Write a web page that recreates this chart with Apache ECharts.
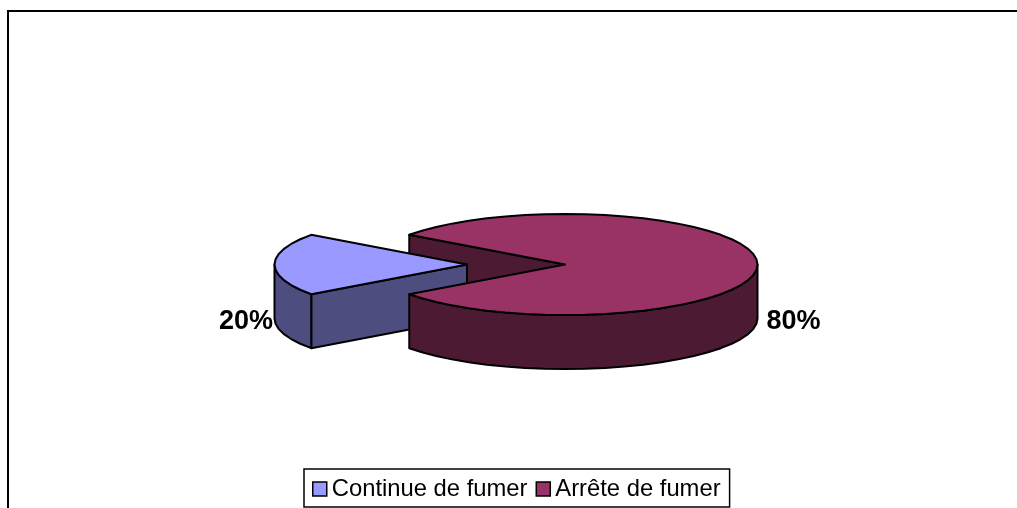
<!DOCTYPE html>
<html>
<head>
<meta charset="utf-8">
<style>html,body{margin:0;padding:0;background:#fff}#c{width:1017px;height:508px}</style>
<script src="https://cdn.jsdelivr.net/npm/echarts@6/dist/echarts.min.js"></script>
</head>
<body>
<div id="c"></div>
<script>
const categories = ['Continue de fumer', 'Arrête de fumer'];
const values = [20, 80];
const topColors = ['#9999FF', '#993366'];
const sideColors = ['#4D4D80', '#4D1A33'];

const cx = 565, cy = 264.5, rx = 192.5, ry = 50.5, depth = 54;
const explodeX = 98;
const firstSliceMid = 180;
const step = 6;
const total = values.reduce((a, b) => a + b, 0);
const rad = d => d * Math.PI / 180;

const firstSpan = values[0] / total * 360;
const spans = [
  [firstSliceMid - firstSpan / 2, firstSliceMid + firstSpan / 2],
  [firstSliceMid + firstSpan / 2, firstSliceMid - firstSpan / 2 + 360]
];
const centers = [[cx - explodeX, cy], [cx, cy]];

function pt(c, a) { return [c[0] + rx * Math.cos(rad(a)), c[1] + ry * Math.sin(rad(a))]; }
function arc(c, a0, a1) {
  const pts = [];
  const n = Math.max(1, Math.round(Math.abs(a1 - a0) / step));
  for (let k = 0; k <= n; k++) pts.push(pt(c, a0 + (a1 - a0) * k / n));
  return pts;
}
function down(p) { return [p[0], p[1] + depth]; }
function poly(points, fill) {
  return { type: 'polygon', shape: { points }, style: { fill, stroke: '#000', lineWidth: 2, lineJoin: 'round' } };
}
function wall(top, fill) { return poly(top.concat(top.slice().reverse().map(down)), fill); }
function topFace(i) {
  const c = centers[i];
  return poly([c].concat(arc(c, spans[i][0], spans[i][1])), topColors[i]);
}
function pctLabel(i, x, y, align) {
  return { type: 'text', x, y, style: {
    text: values[i] + '%', fill: '#000', align, verticalAlign: 'middle',
    font: 'bold 27px "Liberation Sans", Arial, sans-serif' } };
}
function group(children) { return { type: 'group', children }; }

// Inner cut wall of the large slice, seen through the gap left by the pulled-out slice
const renderBackWall = () => group([wall([centers[1], pt(centers[1], spans[1][0])], sideColors[1])]);
const renderSmall = () => {
  const c = centers[0], a0 = spans[0][0];
  return group([
    wall([c, pt(c, a0)], sideColors[0]),
    wall(arc(c, a0, firstSliceMid), sideColors[0]),
    topFace(0),
    pctLabel(0, c[0] - rx - 1.5, cy + 57, 'right')
  ]);
};
const renderLarge = () => {
  const c = centers[1];
  return group([
    wall(arc(c, 360, spans[1][1]), sideColors[1]),
    topFace(1),
    pctLabel(1, c[0] + rx + 9, cy + 57, 'left')
  ]);
};

const base = { type: 'custom', coordinateSystem: 'none', silent: true, animation: false };
const chart = echarts.init(document.getElementById('c'), null, { renderer: 'canvas' });
chart.setOption({
  animation: false,
  backgroundColor: '#fff',
  legend: {
    data: categories.map((name, i) => ({ name, itemStyle: { color: topColors[i], borderColor: '#000', borderWidth: 1.5 } })),
    left: 304, top: 469,
    orient: 'horizontal',
    icon: 'rect',
    itemWidth: 14, itemHeight: 14, itemGap: 8,
    padding: [8, 9, 6, 8],
    borderColor: '#000', borderWidth: 1.5,
    selectedMode: false,
    textStyle: { fontFamily: '"Liberation Sans", Arial, sans-serif', fontSize: 23.8, color: '#000', padding: [0, 0, 0, 0] }
  },
  graphic: [{
    type: 'rect', silent: true, z: -1,
    shape: { x: 8, y: 11, width: 1100, height: 600 },
    style: { fill: 'none', stroke: '#000', lineWidth: 2 }
  }],
  series: [
    { ...base, name: categories[1], itemStyle: { color: topColors[1] }, data: [values[1]], renderItem: renderBackWall },
    { ...base, name: categories[0], itemStyle: { color: topColors[0] }, data: [values[0]], renderItem: renderSmall },
    { ...base, name: categories[1], itemStyle: { color: topColors[1] }, data: [values[1]], renderItem: renderLarge }
  ]
});
</script>
</body>
</html>
